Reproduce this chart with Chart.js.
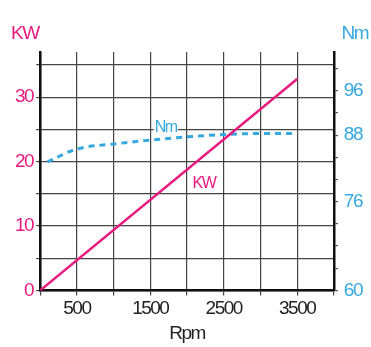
<!DOCTYPE html>
<html>
<head>
<meta charset="utf-8">
<script src="https://cdn.jsdelivr.net/npm/chart.js@4.4.1/dist/chart.umd.min.js"></script>
<style>
  html, body { margin: 0; padding: 0; background: #fff; }
  #wrap { width: 371px; height: 347px; position: relative; }
</style>
</head>
<body>
<div id="wrap"><canvas id="powerChart"></canvas></div>
<script>
// engine curves (KW is a straight line, so its two ends)
const kwRpm = [0, 3500];
const kwValues = [0, 32.8];
const nmRpm = [100, 500, 1000, 1500, 2000, 2500, 3000, 3500];
const nmValues = [83.2, 85.5, 86.4, 87.1, 87.7, 88.1, 88.3, 88.3];

const rpmLabels = [500, 1500, 2500, 3500];
const kwLabels = [0, 10, 20, 30];
const nmLabels = [60, 76, 88, 96];
const kwTicks = [0, 5, 10, 15, 20, 25, 30, 35];
const nmTicks = [60, 64, 68, 72, 76, 80, 84, 88, 92, 96, 100];

const PINK = '#e8197f';
const BLUE = '#35a8e0';
const FONT = "'Liberation Sans', Arial, sans-serif";

Chart.defaults.font.family = FONT;

function tighten(chart) {
    chart.ctx.letterSpacing = '-1.5px';
}

// axis unit captions and the curve names
const captions = {
    id: 'captions',
    beforeLayout: tighten,
    beforeDraw: tighten,
    afterDraw(chart) {
        const ctx = chart.ctx;
        const x = chart.scales.x;
        ctx.save();
        ctx.letterSpacing = '-1.5px';
        ctx.font = '19px ' + FONT;
        ctx.textBaseline = 'alphabetic';
        ctx.fillStyle = PINK;
        ctx.textAlign = 'left';
        ctx.fillText('KW', 11, 39);
        ctx.fillStyle = BLUE;
        ctx.textAlign = 'right';
        ctx.fillText('Nm', 368, 39);

        ctx.font = '16px ' + FONT;
        ctx.textAlign = 'center';
        ctx.textBaseline = 'middle';
        // KW tag below the line
        ctx.fillStyle = PINK;
        ctx.fillText('KW', x.getPixelForValue(2230), chart.scales.y.getPixelForValue(16.6));
        // Nm tag with white box over the grid
        const nx = x.getPixelForValue(1710);
        const ny = chart.scales.y1.getPixelForValue(89.4);
        ctx.fillStyle = '#fff';
        ctx.fillRect(nx - 12, ny - 7, 24, 13);
        ctx.fillStyle = BLUE;
        ctx.fillText('Nm', nx, ny);
        ctx.restore();
    }
};

new Chart(document.getElementById('powerChart'), {
    type: 'line',
    data: {
        datasets: [
            {
                label: 'KW',
                data: kwRpm.map((r, i) => ({x: r, y: kwValues[i]})),
                borderColor: PINK,
                borderWidth: 2.5,
                pointRadius: 0,
                yAxisID: 'y'
            },
            {
                label: 'Nm',
                data: nmRpm.map((r, i) => ({x: r, y: nmValues[i]})),
                borderColor: BLUE,
                borderWidth: 3,
                borderDash: [6, 5],
                cubicInterpolationMode: 'monotone',
                pointRadius: 0,
                yAxisID: 'y1'
            }
        ]
    },
    options: {
        responsive: true,
        maintainAspectRatio: false,
        animation: false,
        layout: { padding: { top: 52, left: 12, right: 3, bottom: 2 } },
        plugins: {
            legend: { display: false },
            tooltip: { enabled: false }
        },
        scales: {
            x: {
                type: 'linear',
                min: 0,
                max: 4000,
                ticks: {
                    stepSize: 500,
                    autoSkip: false,
                    maxRotation: 0,
                    padding: 2,
                    color: '#222',
                    font: { size: 19 },
                    callback: v => rpmLabels.includes(v) ? String(v) : ''
                },
                grid: { color: '#444', lineWidth: 1.2, tickLength: 5 },
                border: { color: '#111', width: 2.5 },
                title: {
                    display: true,
                    text: 'Rpm',
                    color: '#222',
                    font: { size: 19 },
                    padding: { top: 0, bottom: 0 }
                }
            },
            y: {
                position: 'left',
                min: 0,
                max: 37,
                afterBuildTicks: axis => { axis.ticks = kwTicks.map(v => ({value: v})); },
                ticks: {
                    autoSkip: false,
                    padding: 3,
                    color: PINK,
                    font: { size: 19 },
                    callback: v => kwLabels.includes(v) ? String(v) : ''
                },
                grid: { color: '#444', lineWidth: 1.2, tickLength: 4 },
                border: { color: '#111', width: 2.5 }
            },
            y1: {
                position: 'right',
                min: 60,
                max: 103,
                afterBuildTicks: axis => { axis.ticks = nmTicks.map(v => ({value: v})); },
                ticks: {
                    autoSkip: false,
                    padding: 6,
                    color: BLUE,
                    font: { size: 19 },
                    callback: v => nmLabels.includes(v) ? String(v) : ''
                },
                grid: { drawOnChartArea: false, color: '#444', lineWidth: 1.2, tickLength: 4 },
                border: { color: '#111', width: 2.5 }
            }
        }
    },
    plugins: [captions]
});
</script>
</body>
</html>
